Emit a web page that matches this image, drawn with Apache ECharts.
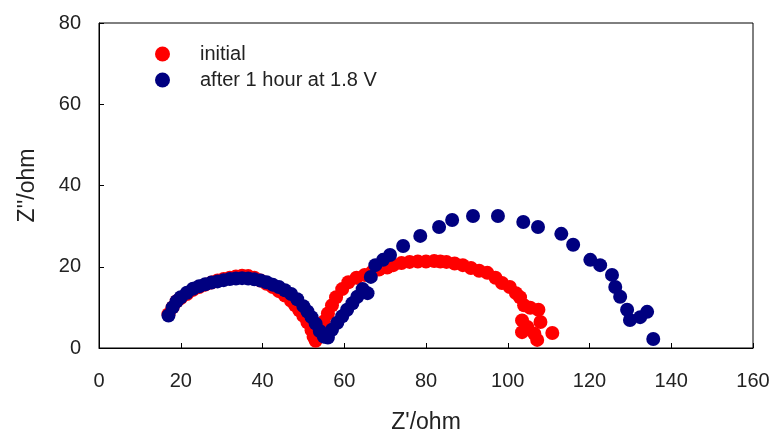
<!DOCTYPE html>
<html>
<head>
<meta charset="utf-8">
<script src="https://cdn.jsdelivr.net/npm/echarts@6/dist/echarts.min.js"></script>
<style>
html,body{margin:0;padding:0;background:#fff;}
#chart{width:780px;height:435px;}
</style>
</head>
<body>
<div id="chart"></div>
<script>
var seriesNames = ["initial", "after 1 hour at 1.8 V"];
var xTicks = [0, 20, 40, 60, 80, 100, 120, 140, 160];
var yTicks = [0, 20, 40, 60, 80];

var initialZre = [17, 18, 19, 20, 21.5, 23, 24.5, 26, 27.5, 29, 30.5, 32, 33.5, 35, 36.5, 38, 39.5, 41, 42.5, 44, 45.5, 47, 48, 49, 50, 51, 52, 52.5, 53,
  54, 55, 56, 57, 58, 59.5, 61, 63, 65, 66.8, 68.5, 70.5, 72, 74, 76, 78, 80, 82, 83.5, 85, 87, 89, 91, 93, 95, 97, 98.6, 100.5, 102, 103,
  104, 105.5, 107.5, 103.5, 108, 104.8, 103.5, 107.2, 106.5, 110.9];
var initialZim = [8.3, 10, 11.5, 12.3, 13.3, 14.3, 15, 15.6, 16.1, 16.6, 17, 17.3, 17.6, 17.8, 17.7, 17.3, 16.6, 15.8, 15, 14, 12.9, 11.6, 10.5, 9.3, 7.9, 6.3, 4.4, 2.8, 1.8,
  4, 6.5, 8.5, 10.5, 12.5, 14.5, 16.2, 17.3, 18, 18.7, 19.3, 19.8, 20.4, 20.9, 21.2, 21.3, 21.3, 21.4, 21.3, 21.2, 20.8, 20.4, 19.7, 19, 18.5, 17.3, 16, 15, 13.5, 12.5,
  10.5, 9.9, 9.4, 6.8, 6.4, 5.2, 3.9, 2.0, 3.5, 3.7];

var afterZre = [17, 18, 19, 20, 21.5, 23, 24.5, 26, 27.5, 29, 30.5, 32, 33.5, 35, 36.5, 38, 39.5, 41, 42.5, 44, 45.5, 47, 48.5, 50, 51, 52, 53, 54, 55, 56,
  57, 58.3, 59.5, 60.7, 62, 63.2, 64.5, 65.7, 66.5, 67.6, 69.5, 71.2, 74.4, 78.6, 83.2, 86.4, 91.5, 97.6, 103.8, 107.4, 113.1, 116, 120.2, 122.6,
  125.5, 126.3, 127.5, 129.2, 129.9, 132.4, 134.1, 135.6];
var afterZim = [8, 10, 11.5, 12.5, 13.6, 14.6, 15.2, 15.7, 16.1, 16.4, 16.7, 17, 17.1, 17.2, 17.1, 16.9, 16.6, 16.2, 15.6, 15, 14.2, 13.3, 12, 10.3, 9, 7.6, 6, 4.2, 2.8, 2.6,
  4.5, 6.2, 7.8, 9.4, 11, 12.6, 14.5, 13.5, 17.5, 20.4, 21.7, 22.9, 25.1, 27.6, 29.8, 31.5, 32.5, 32.5, 31.0, 29.8, 28.1, 25.4, 21.7, 20.4,
  18, 15, 12.6, 9.4, 6.9, 7.6, 8.9, 2.2];

function pairs(xs, ys) {
  var out = [];
  for (var i = 0; i < xs.length; i++) out.push([xs[i], ys[i]]);
  return out;
}

var chart = echarts.init(document.getElementById('chart'), null, {renderer: 'canvas'});
var font = 'Liberation Sans, Arial, sans-serif';
chart.setOption({
  animation: false,
  backgroundColor: '#fff',
  grid: {left: 99, right: 27, top: 23, bottom: 87, outerBoundsMode: 'none', containLabel: false,
    show: true, borderColor: '#000', borderWidth: 1, backgroundColor: 'transparent'},
  legend: {
    orient: 'vertical', left: 155, top: 44, padding: 0, itemWidth: 15, itemHeight: 15, itemGap: 6,
    icon: 'circle',
    data: seriesNames,
    textStyle: {fontFamily: font, fontSize: 20, color: '#222', padding: [0, 0, 0, 25]}
  },
  xAxis: {
    type: 'value', min: 0, max: 160, interval: 20,
    name: "Z'/ohm", nameLocation: 'middle', nameGap: 63,
    nameTextStyle: {fontFamily: font, fontSize: 23, color: '#222'},
    axisLine: {show: true, lineStyle: {color: '#000', width: 1}},
    axisTick: {show: true, inside: true, length: 5, lineStyle: {color: '#000'}},
    axisLabel: {fontFamily: font, fontSize: 20, color: '#222', margin: 23,
      formatter: function (v) { return xTicks.indexOf(v) >= 0 ? String(v) : ''; }},
    splitLine: {show: false}
  },
  yAxis: {
    type: 'value', min: 0, max: 80, interval: 20,
    name: "Z''/ohm", nameLocation: 'middle', nameGap: 60,
    nameTextStyle: {fontFamily: font, fontSize: 23, color: '#222'},
    axisLine: {show: true, lineStyle: {color: '#000', width: 1}},
    axisTick: {show: true, inside: true, length: 5, lineStyle: {color: '#000'}},
    axisLabel: {fontFamily: font, fontSize: 20, color: '#222', margin: 18,
      formatter: function (v) { return yTicks.indexOf(v) >= 0 ? String(v) : ''; }},
    splitLine: {show: false}
  },
  series: [
    {name: seriesNames[0], type: 'scatter', symbol: 'circle', symbolSize: 14,
     itemStyle: {color: '#ff0000', opacity: 1}, data: pairs(initialZre, initialZim)},
    {name: seriesNames[1], type: 'scatter', symbol: 'circle', symbolSize: 14,
     itemStyle: {color: '#000080', opacity: 1}, data: pairs(afterZre, afterZim)}
  ]
});
</script>
</body>
</html>
